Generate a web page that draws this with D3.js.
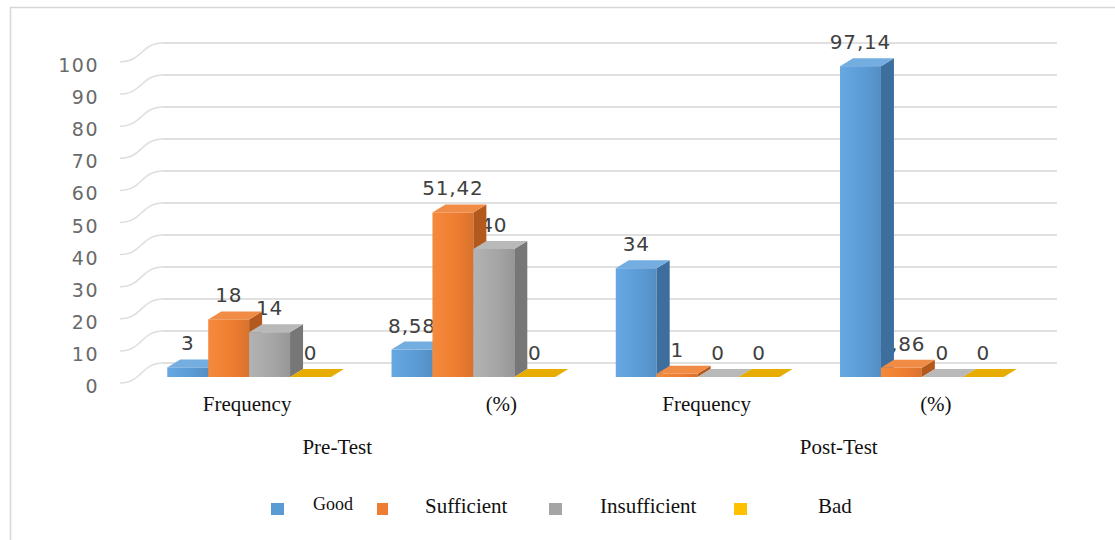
<!DOCTYPE html>
<html>
<head>
<meta charset="utf-8">
<script src="https://cdn.jsdelivr.net/npm/d3@7/dist/d3.min.js"></script>
<style>
  html, body { margin: 0; padding: 0; background: #fff; }
  svg { display: block; }
</style>
</head>
<body>
<svg id="chart" width="1115" height="540"></svg>
<script>
// ---- data ----
const categories = ["Frequency", "(%)", "Frequency", "(%)"];
const testGroups = ["Pre-Test", "Post-Test"];
const series = ["Good", "Sufficient", "Insufficient", "Bad"];
const good = [3, 8.58, 34, 97.14];
const sufficient = [18, 51.42, 1, 2.86];
const insufficient = [14, 40, 0, 0];
const bad = [0, 0, 0, 0];
const yTicks = [0, 10, 20, 30, 40, 50, 60, 70, 80, 90, 100];

const seriesValues = [good, sufficient, insufficient, bad];
const colors = {
  Good: { front: "#5B9BD5", light: "#67a8e2", side: "#3d6e9e", top: "#74ade0" },
  Sufficient: { front: "#ED7D31", light: "#f58a3c", side: "#b3591e", top: "#f08c45" },
  Insufficient: { front: "#A5A5A5", light: "#b3b3b3", side: "#777777", top: "#b9b9b9" },
  Bad: { front: "#FFC000", light: "#ffc61a", side: "#c08f00", top: "#e6ac00" }
};

const svg = d3.select("#chart");
const defs = svg.append("defs");
series.forEach((s, i) => {
  const g = defs.append("linearGradient").attr("id", "grad" + i)
    .attr("x1", "0").attr("x2", "1").attr("y1", "0").attr("y2", "0");
  g.append("stop").attr("offset", "0").attr("stop-color", colors[s].light);
  g.append("stop").attr("offset", "0.6").attr("stop-color", colors[s].front);
  g.append("stop").attr("offset", "1").attr("stop-color", d3.color(colors[s].front).darker(0.25));
});

// border
svg.append("path").attr("d", "M10.5,540 L10.5,7.5 L1115,7.5")
  .attr("fill", "none").attr("stroke", "#d6d6d6").attr("stroke-width", 1.5);

// ---- scales ----
const idx = d3.range(categories.length);
const x0 = d3.scaleBand().domain(idx).range([137, 1034]).paddingInner(0.27).paddingOuter(0.135);
const x1 = d3.scaleBand().domain(series).range([0, x0.bandwidth()]);
const y = d3.scaleLinear().domain([0, 100]).range([377, 57]);
const yLabel = d3.scaleLinear().domain([0, 100]).range([393, 72]);
const depthX = 13, depthY = -8;   // bar depth
const wallDY = -14;               // back wall offset
const wallLeft = 163, wallRight = 1057, sideLeft = 120;

// side wall lines and back wall gridlines
const grid = svg.append("g");
yTicks.forEach(t => {
  const yb = y(t) + wallDY;
  const yf = yLabel(t) - 10;
  grid.append("path")
    .attr("d", `M${sideLeft},${yf} C${sideLeft + 22},${yf} ${wallLeft - 22},${yb} ${wallLeft},${yb}`)
    .attr("fill", "none").attr("stroke", "#dedede").attr("stroke-width", 1.5);
  grid.append("line")
    .attr("x1", wallLeft).attr("x2", wallRight).attr("y1", yb).attr("y2", yb)
    .attr("stroke", "#d6d6d6").attr("stroke-width", 1.6);
});

// y tick labels
svg.append("g").selectAll("text").data(yTicks).join("text")
  .attr("x", 99).attr("y", d => yLabel(d))
  .attr("text-anchor", "end")
  .attr("font-family", "DejaVu Sans, sans-serif").attr("font-size", 19)
  .attr("letter-spacing", 1.5)
  .attr("fill", "#6a6a6a")
  .text(d => d);

// data labels (drawn before bars, bars may cover them as in the original)
const fmt = v => String(v).replace(".", ",");
const labels = svg.append("g");
series.forEach((s, si) => {
  seriesValues[si].forEach((v, ci) => {
    const cx = x0(ci) + x1(s) + x1.bandwidth() / 2;
    labels.append("text")
      .attr("x", cx).attr("y", y(v) - 17)
      .attr("text-anchor", "middle")
      .attr("font-family", "DejaVu Sans, sans-serif").attr("font-size", 20)
      .attr("letter-spacing", 0.8)
      .attr("fill", "#404040")
      .text(fmt(v));
  });
});

// bars
const bars = svg.append("g");
series.forEach((s, si) => {
  seriesValues[si].forEach((v, ci) => {
    const xl = x0(ci) + x1(s), w = x1.bandwidth();
    const top = y(v), bot = y(0);
    const g = bars.append("g");
    if (bot - top > 0.5) {
      g.append("rect").attr("x", xl).attr("y", top).attr("width", w).attr("height", bot - top)
        .attr("fill", `url(#grad${si})`);
      g.append("path")
        .attr("d", `M${xl + w},${top} L${xl + w + depthX},${top + depthY} L${xl + w + depthX},${bot + depthY} L${xl + w},${bot} Z`)
        .attr("fill", colors[s].side);
    }
    g.append("path")
      .attr("d", `M${xl},${top} L${xl + w},${top} L${xl + w + depthX},${top + depthY} L${xl + depthX},${top + depthY} Z`)
      .attr("fill", colors[s].top);
  });
});

// category labels
const catOffsets = [-2, 28, 9, 14];
svg.append("g").selectAll("text").data(idx).join("text")
  .attr("x", d => x0(d) + x0.bandwidth() / 2 + catOffsets[d])
  .attr("y", 411)
  .attr("text-anchor", "middle")
  .attr("font-family", "Liberation Serif, serif").attr("font-size", 21)
  .attr("fill", "#111")
  .text(d => categories[d]);

// test group labels (spanning pairs of categories)
const groupOffsets = [-24, 29];
svg.append("g").selectAll("text").data(testGroups).join("text")
  .attr("x", (d, i) => (x0(2 * i) + x0(2 * i + 1) + x0.bandwidth()) / 2 + groupOffsets[i])
  .attr("y", 454)
  .attr("text-anchor", "middle")
  .attr("font-family", "Liberation Serif, serif").attr("font-size", 21)
  .attr("fill", "#111")
  .text(d => d);

// legend
const legendSquares = [271, 377, 549, 734];
const legendTexts = [313, 425, 600, 818];
const legendSizes = [18, 21, 21, 21];
const legendSq = [13, 11, 13, 13];
const lg = svg.append("g");
series.forEach((s, i) => {
  lg.append("rect").attr("x", legendSquares[i]).attr("y", 503)
    .attr("width", legendSq[i]).attr("height", 12).attr("fill", colors[s].front);
  lg.append("text").attr("x", legendTexts[i]).attr("y", i === 0 ? 510 : 513)
    .attr("font-family", "Liberation Serif, serif").attr("font-size", legendSizes[i])
    .attr("fill", "#111").text(s);
});
</script>
</body>
</html>
